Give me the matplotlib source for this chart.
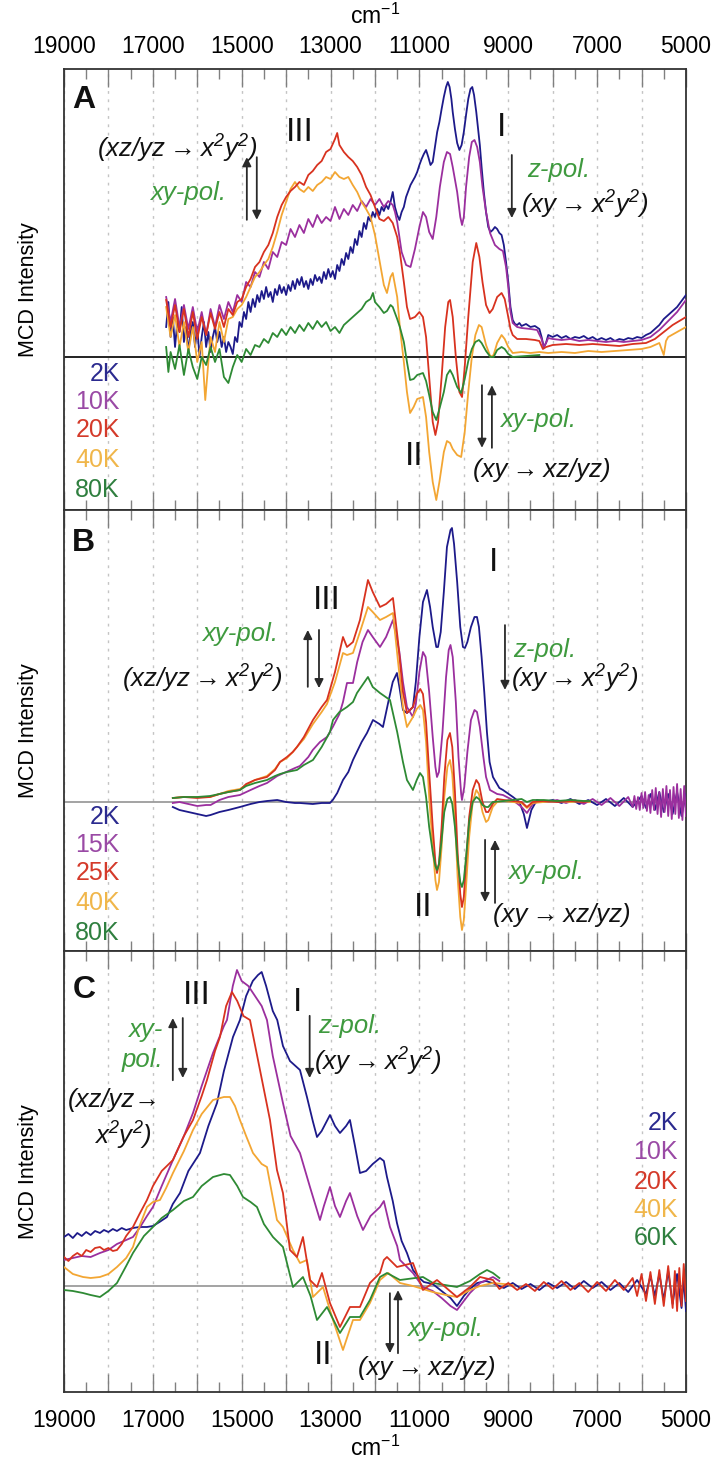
import numpy as np
import matplotlib.pyplot as plt
from matplotlib.ticker import MultipleLocator, FuncFormatter

plt.rcParams['font.family'] = ['Liberation Sans', 'DejaVu Sans']

NAVY   = '#1d1a8a'
PURPLE = '#9b2f9e'
RED    = '#d8321f'
ORANGE = '#f3a633'
GREEN  = '#2e8a34'
ANN_GREEN = '#3f9a3f'
LEG_COLORS = ['#2b2a8f', '#9a4aa5', '#d43a2a', '#f0b64a', '#2f7f3f']

# ---------------- panel A : wavenumber (cm-1), MCD intensity (arb.) ----------------
A_2K = np.array([
    [16700, 30], [16650, 55], [16600, 20], [16550, 40], [16500, 10], [16450, 35], [16400, 25], [16350, 50],
    [16300, 15], [16250, 30], [16200, 5], [16150, 25], [16100, 35], [16050, 10], [16000, 30], [15950, 0],
    [15900, 20], [15850, 35], [15800, 10], [15750, 25], [15700, 5], [15650, 20], [15600, 30], [15550, 15],
    [15500, 25], [15450, 10], [15400, 20], [15350, 5], [15300, 15], [15250, 10], [15200, 3], [15150, 20],
    [15100, 15], [15050, 35], [15000, 30], [14950, 45], [14900, 38], [14850, 55], [14800, 45], [14750, 58],
    [14700, 50], [14650, 62], [14600, 55], [14550, 66], [14500, 58], [14450, 70], [14400, 60], [14350, 65],
    [14300, 55], [14250, 68], [14200, 62], [14150, 72], [14100, 64], [14050, 70], [14000, 62], [13950, 72],
    [13900, 66], [13850, 76], [13800, 68], [13750, 78], [13700, 72], [13650, 80], [13600, 70], [13550, 76],
    [13500, 68], [13450, 78], [13400, 72], [13350, 82], [13300, 76], [13250, 80], [13200, 74], [13150, 85],
    [13100, 78], [13050, 88], [13000, 80], [12950, 86], [12900, 78], [12850, 92], [12800, 86], [12750, 98],
    [12700, 92], [12650, 104], [12600, 98], [12550, 110], [12500, 104], [12450, 118], [12400, 112], [12350, 126],
    [12300, 120], [12250, 134], [12200, 128], [12150, 140], [12100, 136], [12050, 145], [12000, 140], [11950, 148],
    [11900, 142], [11850, 150], [11800, 146], [11750, 152], [11700, 148], [11650, 155], [11600, 165], [11550, 150],
    [11500, 142], [11450, 137], [11400, 145], [11350, 150], [11300, 160], [11250, 166], [11200, 172], [11150, 176],
    [11100, 180], [11050, 185], [11000, 192], [10950, 198], [10900, 203], [10850, 207], [10800, 200], [10750, 192],
    [10700, 195], [10650, 210], [10600, 225], [10550, 235], [10500, 248], [10450, 260], [10400, 270], [10360, 275],
    [10320, 270], [10280, 258], [10250, 245], [10200, 228], [10150, 214], [10100, 207], [10050, 212], [10000, 225],
    [9950, 242], [9900, 258], [9850, 268], [9810, 270], [9770, 262], [9720, 245], [9680, 228], [9640, 212],
    [9600, 190], [9550, 165], [9500, 145], [9450, 130], [9400, 125], [9350, 127], [9300, 130], [9250, 128],
    [9200, 124], [9150, 122], [9100, 112], [9050, 95], [9000, 75], [8950, 50], [8900, 37], [8850, 33],
    [8800, 32], [8750, 34], [8700, 31], [8600, 33], [8500, 30], [8400, 31], [8300, 28], [8250, 20],
    [8200, 10], [8150, 14], [8100, 22], [8000, 20], [7900, 22], [7800, 19], [7700, 21], [7600, 18],
    [7500, 20], [7400, 19], [7300, 21], [7200, 18], [7100, 20], [7000, 17], [6900, 19], [6800, 17],
    [6700, 19], [6600, 16], [6500, 18], [6400, 17], [6300, 19], [6200, 18], [6100, 20], [6000, 19],
    [5900, 22], [5800, 24], [5700, 28], [5600, 32], [5500, 38], [5400, 42], [5300, 46], [5200, 50],
    [5100, 56], [5000, 62]])

A_10K = np.array([
    [16700, 60], [16600, 35], [16500, 58], [16400, 30], [16300, 52], [16200, 28], [16100, 50], [16000, 25],
    [15900, 45], [15800, 22], [15700, 48], [15600, 30], [15500, 52], [15400, 38], [15300, 55], [15200, 45],
    [15100, 62], [15000, 55], [14900, 75], [14800, 70], [14700, 85], [14600, 80], [14500, 95], [14400, 88],
    [14300, 105], [14200, 100], [14100, 115], [14000, 112], [13900, 128], [13800, 120], [13700, 132], [13600, 124],
    [13500, 138], [13400, 130], [13300, 142], [13200, 134], [13100, 140], [13000, 136], [12900, 150], [12800, 138],
    [12700, 148], [12600, 142], [12500, 152], [12400, 146], [12300, 156], [12200, 150], [12100, 158], [12000, 152],
    [11900, 158], [11800, 150], [11700, 156], [11600, 152], [11550, 145], [11500, 135], [11450, 120], [11400, 105],
    [11300, 92], [11200, 90], [11100, 108], [11000, 130], [10920, 145], [10850, 140], [10780, 125], [10700, 118],
    [10620, 140], [10540, 170], [10450, 195], [10380, 205], [10310, 203], [10250, 190], [10150, 165], [10080, 140],
    [10040, 132], [10000, 140], [9950, 170], [9880, 200], [9820, 215], [9760, 217], [9700, 210], [9640, 195],
    [9580, 170], [9500, 145], [9410, 124], [9300, 112], [9200, 108], [9120, 106], [9050, 90], [9000, 70],
    [8950, 45], [8900, 34], [8800, 30], [8700, 29], [8500, 28], [8350, 27], [8250, 18], [8200, 10],
    [8150, 14], [8100, 19], [8000, 18], [7800, 17], [7600, 18], [7400, 16], [7200, 17], [7000, 16],
    [6800, 15], [6600, 16], [6400, 15], [6200, 16], [6000, 17], [5800, 20], [5600, 27], [5400, 36],
    [5200, 45], [5000, 57]])

A_20K = np.array([
    [16700, 57], [16600, 30], [16500, 52], [16400, 25], [16300, 48], [16200, 20], [16100, 45], [16000, 18],
    [15900, 40], [15800, 22], [15700, 44], [15600, 28], [15500, 45], [15400, 30], [15300, 48], [15200, 42],
    [15100, 55], [15000, 58], [14900, 70], [14800, 78], [14700, 90], [14600, 95], [14500, 105], [14400, 112],
    [14300, 124], [14200, 140], [14100, 152], [14000, 160], [13900, 166], [13800, 170], [13700, 175], [13600, 172],
    [13500, 182], [13400, 186], [13300, 192], [13200, 196], [13100, 205], [13000, 208], [12900, 218], [12850, 224],
    [12800, 212], [12700, 205], [12600, 200], [12500, 196], [12400, 190], [12300, 182], [12200, 170], [12100, 162],
    [12000, 150], [11900, 138], [11800, 136], [11700, 140], [11600, 134], [11500, 120], [11440, 105], [11350, 75],
    [11280, 50], [11210, 38], [11100, 40], [11000, 45], [10920, 40], [10850, 20], [10780, -20], [10700, -65],
    [10640, -78], [10580, -65], [10500, -20], [10420, 30], [10350, 55], [10310, 57], [10250, 40], [10180, 0],
    [10100, -35], [10040, -40], [9980, -10], [9900, 40], [9800, 95], [9720, 114], [9650, 100], [9580, 75],
    [9500, 52], [9420, 44], [9350, 48], [9250, 60], [9150, 64], [9080, 58], [9000, 40], [8950, 28],
    [8900, 22], [8800, 18], [8600, 18], [8400, 17], [8300, 16], [8220, 8], [8150, 10], [8000, 12],
    [7700, 13], [7400, 12], [7100, 13], [6800, 12], [6500, 11], [6200, 13], [5900, 14], [5700, 18],
    [5500, 25], [5300, 32], [5150, 36], [5000, 40]])

A_40K = np.array([
    [16700, 50], [16600, 20], [16500, 42], [16400, 10], [16300, 35], [16200, 5], [16100, 30], [16000, -5],
    [15900, 15], [15820, -43], [15750, -5], [15700, 20], [15600, 5], [15500, 35], [15400, 15], [15300, 38],
    [15200, 40], [15100, 48], [15000, 52], [14900, 60], [14800, 70], [14700, 80], [14600, 85], [14500, 92],
    [14400, 98], [14300, 110], [14200, 125], [14100, 142], [14000, 155], [13900, 168], [13800, 175], [13700, 168],
    [13600, 165], [13500, 170], [13400, 166], [13300, 172], [13200, 175], [13100, 180], [13000, 178], [12900, 185],
    [12800, 180], [12700, 178], [12600, 180], [12500, 172], [12400, 165], [12300, 155], [12200, 148], [12100, 140],
    [12000, 122], [11900, 97], [11800, 72], [11730, 64], [11650, 80], [11600, 84], [11500, 60], [11440, 30],
    [11350, -5], [11280, -35], [11210, -56], [11130, -50], [11050, -42], [10920, -40], [10850, -60], [10780, -95],
    [10700, -125], [10620, -143], [10550, -125], [10450, -95], [10380, -84], [10310, -86], [10250, -92], [10150, -98],
    [10060, -100], [9980, -75], [9900, -35], [9820, 0], [9740, 22], [9660, 32], [9600, 30], [9500, 12],
    [9400, 0], [9330, 2], [9250, 14], [9150, 22], [9080, 18], [9000, 10], [8900, 4], [8700, 5],
    [8500, 4], [8300, 5], [8100, 4], [7800, 5], [7500, 4], [7200, 6], [6900, 5], [6600, 6],
    [6300, 7], [6000, 8], [5800, 10], [5600, 14], [5500, 2], [5450, 16], [5400, 20], [5200, 25],
    [5000, 30]])

A_80K = np.array([
    [16700, 10], [16650, -15], [16600, 5], [16500, -12], [16400, 12], [16300, -18], [16200, 8], [16100, -10],
    [16000, -22], [15900, 0], [15800, -8], [15700, 10], [15600, -5], [15500, 8], [15400, -20], [15300, -26],
    [15200, -10], [15100, 2], [15000, -5], [14900, 8], [14800, 2], [14700, 12], [14600, 10], [14500, 18],
    [14400, 14], [14300, 24], [14200, 20], [14100, 28], [14000, 22], [13900, 30], [13800, 24], [13700, 32],
    [13600, 26], [13500, 34], [13400, 28], [13300, 36], [13200, 30], [13100, 35], [13000, 26], [12900, 30],
    [12800, 24], [12700, 32], [12600, 36], [12500, 40], [12400, 44], [12300, 48], [12200, 55], [12100, 58],
    [12045, 64], [12000, 55], [11900, 50], [11800, 44], [11730, 46], [11650, 52], [11600, 50], [11500, 38],
    [11440, 30], [11350, 15], [11280, -5], [11210, -23], [11130, -22], [11050, -18], [10920, -16], [10850, -24],
    [10780, -38], [10700, -55], [10620, -63], [10550, -52], [10450, -35], [10380, -18], [10310, -13], [10250, -18],
    [10150, -30], [10060, -36], [9980, -22], [9900, -4], [9820, 8], [9740, 15], [9660, 17], [9600, 14],
    [9500, 6], [9400, 0], [9330, 0], [9250, 7], [9150, 10], [9080, 8], [9000, 3], [8900, 0],
    [8600, 1], [8300, 2]])

# ---------------- panel B ----------------
B_2K = np.array([
    [16550, -5], [16400, -8], [16200, -10], [16000, -12], [15800, -14], [15700, -13], [15500, -10], [15300, -8],
    [15040, -5], [14800, -2], [14600, 0], [14430, 1], [14200, 2], [14000, 0], [13800, -1], [13690, -1],
    [13400, -2], [13200, -1], [13013, -1], [12950, 2], [12850, 9], [12720, 22], [12600, 30], [12495, 42],
    [12300, 60], [12180, 69], [12045, 82], [11900, 78], [11820, 75], [11700, 100], [11600, 120], [11505, 129],
    [11450, 115], [11370, 92], [11280, 89], [11145, 95], [11080, 120], [11000, 165], [10920, 200], [10830, 212],
    [10760, 195], [10700, 175], [10620, 155], [10582, 155], [10520, 170], [10450, 210], [10380, 255], [10300, 272],
    [10267, 274], [10220, 258], [10150, 220], [10080, 175], [10020, 155], [9975, 154], [9920, 160], [9840, 175],
    [9760, 185], [9704, 185], [9660, 175], [9600, 145], [9540, 110], [9480, 70], [9420, 40], [9344, 25],
    [9200, 14], [9119, 12], [8894, 5], [8750, 0], [8650, -12], [8579, -26], [8480, -8], [8354, 2],
    [8200, 0], [8000, 2], [7800, -1], [7600, 3], [7400, -2], [7200, 2], [7000, -3], [6800, 3],
    [6600, -4], [6400, 4], [6200, -5], [6000, 6], [5900, -6], [5800, 8], [5700, -8], [5600, 10],
    [5500, -10], [5400, 8], [5300, -12], [5200, 10], [5100, -14], [5000, 8]])

B_15K = np.array([
    [16550, -1], [16400, 0], [16200, -2], [16000, -4], [15800, -3], [15700, -3], [15500, 2], [15300, 5],
    [15040, 7], [14800, 12], [14600, 16], [14430, 19], [14200, 26], [14000, 30], [13800, 34], [13690, 36],
    [13500, 45], [13400, 52], [13238, 60], [13080, 65], [12950, 75], [12800, 88], [12720, 100], [12630, 119],
    [12495, 119], [12400, 140], [12280, 160], [12158, 172], [12050, 165], [11887, 155], [11750, 165], [11595, 182],
    [11450, 150], [11370, 120], [11280, 95], [11145, 85], [11080, 98], [11000, 130], [10920, 150], [10860, 145],
    [10780, 110], [10700, 65], [10640, 35], [10604, 25], [10560, 30], [10480, 70], [10400, 125], [10340, 152],
    [10300, 157], [10250, 145], [10180, 100], [10120, 45], [10060, 8], [10042, 2], [9990, 15], [9920, 50],
    [9840, 82], [9760, 92], [9704, 90], [9640, 75], [9560, 45], [9500, 25], [9411, 12], [9250, 8],
    [9119, 7], [8900, 2], [8700, -5], [8579, -11], [8450, -2], [8300, 1], [8100, 0], [7900, 2],
    [7700, -1], [7500, 2], [7300, -2], [7100, 3], [6900, -3], [6700, 4], [6500, -4], [6300, 5],
    [6200, -5], [6160, 6], [6120, -7], [6080, 5], [6040, -8], [6000, 9], [5960, -6], [5920, 10],
    [5880, -9], [5840, 7], [5800, -11], [5760, 12], [5720, -8], [5680, 14], [5640, -12], [5600, 10],
    [5560, -15], [5520, 13], [5480, -10], [5440, 16], [5400, -14], [5360, 12], [5320, -17], [5280, 15],
    [5240, -12], [5200, 18], [5160, -16], [5120, 13], [5080, -18], [5040, 16], [5000, -14]])

B_25K = np.array([
    [16550, 4], [16300, 5], [16000, 4], [15714, 5], [15500, 8], [15300, 10], [15039, 12], [14900, 18],
    [14700, 22], [14431, 25], [14250, 32], [14138, 40], [13981, 45], [13850, 50], [13756, 55], [13600, 65],
    [13396, 82], [13200, 95], [13080, 102], [12900, 130], [12720, 165], [12630, 155], [12495, 160], [12338, 182],
    [12158, 222], [12050, 210], [11887, 195], [11750, 198], [11595, 204], [11480, 160], [11370, 110], [11280, 89],
    [11145, 95], [11060, 108], [10980, 113], [10920, 108], [10850, 80], [10780, 30], [10700, -25], [10640, -60],
    [10604, -71], [10560, -62], [10500, -25], [10440, 25], [10370, 62], [10312, 69], [10260, 55], [10200, 10],
    [10140, -50], [10080, -92], [10042, -105], [10000, -95], [9950, -60], [9880, -15], [9800, 12], [9720, 22],
    [9660, 18], [9580, 0], [9500, -10], [9450, -10], [9350, -2], [9250, 3], [9100, 2], [8900, 1],
    [8700, 0], [8580, -5], [8450, 0], [8200, 1], [7900, 0], [7600, 1], [7300, 0], [7161, 1]])

B_40K = np.array([
    [16550, 4], [16300, 5], [16000, 5], [15714, 5], [15500, 8], [15300, 11], [15039, 13], [14900, 17],
    [14700, 22], [14431, 26], [14250, 33], [14138, 40], [13981, 44], [13850, 50], [13756, 55], [13600, 63],
    [13396, 78], [13200, 90], [13080, 98], [12900, 120], [12720, 149], [12630, 147], [12495, 149], [12338, 170],
    [12158, 195], [12050, 190], [11887, 182], [11750, 185], [11595, 189], [11480, 140], [11370, 95], [11280, 75],
    [11145, 85], [11060, 93], [10980, 97], [10920, 92], [10850, 60], [10780, 5], [10700, -45], [10640, -78],
    [10604, -88], [10560, -80], [10500, -45], [10440, 5], [10370, 35], [10312, 42], [10260, 28], [10200, -15],
    [10140, -75], [10080, -115], [10042, -128], [10000, -118], [9950, -85], [9880, -35], [9800, 0], [9720, 12],
    [9660, 8], [9580, -10], [9500, -20], [9450, -18], [9350, -5], [9250, 0], [9100, 1], [8900, 0],
    [8700, -1], [8580, -6], [8450, -1], [8200, 0], [7900, 1], [7600, 0], [7300, 1], [7161, 0]])

B_80K = np.array([
    [16550, 4], [16300, 5], [16000, 5], [15714, 6], [15500, 8], [15300, 10], [15039, 12], [14900, 16],
    [14700, 19], [14431, 22], [14250, 26], [14138, 28], [13981, 30], [13756, 32], [13600, 37], [13396, 42],
    [13200, 55], [13013, 70], [12945, 82], [12800, 90], [12630, 95], [12495, 100], [12405, 109], [12158, 125],
    [12050, 115], [11887, 109], [11662, 102], [11500, 70], [11370, 40], [11280, 22], [11145, 12], [11060, 22],
    [10987, 29], [10920, 25], [10850, 5], [10780, -25], [10700, -50], [10640, -64], [10604, -68], [10560, -62],
    [10500, -38], [10440, -10], [10370, 3], [10312, 5], [10260, -2], [10200, -25], [10140, -58], [10080, -80],
    [10042, -85], [10000, -78], [9950, -55], [9880, -20], [9800, 0], [9720, 5], [9660, 3], [9580, -3],
    [9500, -5], [9450, -5], [9350, 0], [9100, 1], [8900, 2], [8700, 3], [8580, 0], [8450, 2],
    [8200, 2], [7900, 1], [7600, 2], [7300, 1], [7161, 1]])

# ---------------- panel C ----------------
C_2K = np.array([
    [19000, 49], [18900, 52], [18800, 48], [18700, 53], [18600, 50], [18500, 54], [18400, 51], [18300, 55],
    [18190, 53], [18100, 56], [18000, 54], [17900, 57], [17807, 55], [17700, 58], [17600, 56], [17447, 58],
    [17300, 59], [17132, 59], [16997, 60], [16850, 64], [16682, 69], [16550, 82], [16389, 93], [16200, 115],
    [15939, 133], [15750, 160], [15556, 183], [15400, 215], [15196, 249], [15039, 266], [14900, 290], [14750, 305],
    [14633, 311], [14550, 314], [14450, 300], [14300, 275], [14200, 266], [14071, 240], [13913, 225], [13688, 216],
    [13531, 189], [13400, 165], [13305, 149], [13200, 155], [13013, 171], [12900, 160], [12788, 153], [12650, 160],
    [12563, 166], [12450, 140], [12338, 113], [12200, 115], [12050, 122], [11887, 128], [11800, 125], [11730, 109],
    [11600, 85], [11505, 63], [11400, 45], [11280, 33], [11145, 16], [11000, 8], [10900, 4], [10700, 2],
    [10500, -5], [10300, -12], [10154, -20], [10000, -10], [9862, -3], [9700, 3], [9500, 5], [9300, 2],
    [9100, -2], [8900, 3], [8700, -3], [8500, 2], [8300, -4], [8100, 3], [7900, -2], [7700, 4],
    [7500, -3], [7300, 5], [7100, -2], [6900, 4], [6700, -4], [6500, 3], [6300, -6], [6100, 6],
    [5900, -8], [5800, 10], [5700, -10], [5600, 12], [5500, -14], [5400, 15], [5300, -18], [5200, 12],
    [5100, -22], [5050, 8], [5000, -25]])

C_10K = np.array([
    [19000, 26], [18800, 28], [18600, 30], [18400, 29], [18190, 33], [18000, 36], [17807, 42], [17600, 46],
    [17447, 49], [17300, 58], [17132, 70], [16997, 79], [16800, 100], [16547, 126], [16300, 150], [16096, 173],
    [15900, 200], [15646, 233], [15400, 260], [15331, 266], [15200, 300], [15106, 316], [15000, 305], [14850, 300],
    [14700, 290], [14550, 280], [14431, 266], [14300, 230], [14071, 183], [13900, 150], [13688, 133], [13463, 99],
    [13238, 66], [13150, 80], [13013, 99], [12900, 80], [12788, 69], [12650, 85], [12563, 93], [12400, 70],
    [12270, 56], [12100, 70], [11887, 79], [11800, 85], [11662, 59], [11500, 40], [11437, 26], [11145, 13],
    [10920, -1], [10700, -5], [10500, -12], [10300, -20], [10154, -24], [10000, -15], [9862, -7], [9637, 3],
    [9344, 9], [9200, 5]])

C_20K = np.array([
    [19000, 29], [18900, 25], [18800, 30], [18700, 33], [18600, 30], [18500, 36], [18400, 34], [18300, 38],
    [18190, 39], [18100, 36], [18000, 38], [17900, 35], [17807, 36], [17700, 42], [17600, 50], [17447, 59],
    [17300, 72], [17132, 86], [16997, 100], [16800, 115], [16547, 126], [16300, 150], [16096, 166], [15900, 190],
    [15781, 206], [15600, 235], [15489, 249], [15350, 280], [15219, 294], [15100, 285], [14960, 270], [14813, 266],
    [14588, 216], [14363, 166], [14206, 116], [14071, 93], [13913, 36], [13756, 29], [13621, 49], [13463, 6],
    [13305, -1], [13193, 13], [13013, -17], [12788, -41], [12563, -21], [12338, -21], [12113, 3], [11887, 13],
    [11800, 26], [11730, 29], [11505, 19], [11145, 23], [10920, -4], [10604, 6], [10154, -11], [9862, -1],
    [9637, 9], [9344, 6], [9200, -3], [9000, 3], [8800, -4], [8600, 2], [8400, -5], [8200, 4],
    [8000, -3], [7800, 5], [7600, -4], [7400, 3], [7200, -6], [7000, 4], [6800, -5], [6600, 6],
    [6400, -4], [6200, 8], [6100, -10], [6000, 12], [5900, -15], [5800, 14], [5700, -18], [5600, 16],
    [5500, -20], [5400, 20], [5300, -22], [5250, 15], [5200, -25], [5150, 18], [5100, -20], [5050, 22],
    [5000, -15]])

C_40K = np.array([
    [19000, 19], [18800, 12], [18572, 9], [18400, 8], [18190, 9], [18000, 12], [17807, 19], [17600, 28],
    [17447, 39], [17300, 60], [17132, 79], [16997, 84], [16839, 86], [16700, 98], [16547, 113], [16300, 135],
    [16096, 156], [15900, 172], [15646, 186], [15400, 189], [15264, 189], [15150, 180], [15039, 166], [14900, 150],
    [14746, 133], [14550, 122], [14431, 119], [14206, 66], [14071, 59], [13846, 36], [13688, 23], [13531, 26],
    [13396, -11], [13170, -1], [12945, -34], [12720, -64], [12495, -34], [12338, -34], [12113, -17], [11887, 6],
    [11700, 13], [11437, 3], [11145, 0], [10920, -3], [10700, -6], [10400, -9], [10154, -11], [9862, -4],
    [9637, 0], [9344, 3], [9100, 2], [8900, 1]])

C_60K = np.array([
    [19000, -4], [18800, -5], [18572, -7], [18400, -9], [18190, -11], [18000, -5], [17807, 3], [17600, 20],
    [17447, 33], [17200, 50], [16997, 59], [16800, 68], [16547, 76], [16300, 85], [16096, 89], [15900, 100],
    [15646, 109], [15400, 112], [15264, 111], [15100, 100], [14971, 89], [14800, 84], [14656, 79], [14500, 62],
    [14296, 49], [14071, 39], [13846, -1], [13621, 9], [13450, -10], [13305, -34], [13080, -21], [12788, -47],
    [12563, -31], [12338, -31], [12113, -14], [11887, 9], [11730, 13], [11437, 6], [10920, 9], [10695, 3],
    [10154, -1], [9862, 5], [9637, 12], [9479, 16], [9344, 13], [9200, 8]])

A_TEMPS = ['2K', '10K', '20K', '40K', '80K']
B_TEMPS = ['2K', '15K', '25K', '40K', '80K']
C_TEMPS = ['2K', '10K', '20K', '40K', '60K']

A_LIM = (-153, 288)
B_LIM = (-149, 292)
C_LIM = (-106, 335)

FS_TICK = 16.5
FS_NOTE = 18.5
FS_ROMAN = 24
FS_LEG = 18
FS_PANEL = 23

SUP2 = '$^{\\mathregular{2}}$'
ARR = '\u2009→\u2009'
XZ_TO_X2Y2 = '(xz/yz' + ARR + 'x' + SUP2 + 'y' + SUP2 + ')'
XY_TO_X2Y2 = '(xy' + ARR + 'x' + SUP2 + 'y' + SUP2 + ')'
XY_TO_XZYZ = '(xy' + ARR + 'xz/yz)'


def tick_fmt(v, pos):
    v = int(round(v))
    return str(v) if v % 2000 == 1000 else ''


def setup(ax, ylim, zero_color, zero_lw):
    ax.set_xlim(19000, 5000)
    ax.set_ylim(*ylim)
    ax.axhline(0, color=zero_color, lw=zero_lw, zorder=2)
    ax.xaxis.set_major_locator(MultipleLocator(1000))
    ax.xaxis.set_minor_locator(MultipleLocator(500))
    ax.xaxis.set_major_formatter(FuncFormatter(tick_fmt))
    ax.tick_params(axis='x', which='both', direction='in', top=True, bottom=True,
                   labelbottom=False, labeltop=False, color='#808080', width=1.0,
                   labelsize=FS_TICK, pad=8)
    ax.tick_params(axis='x', which='major', length=13)
    ax.tick_params(axis='x', which='minor', length=7)
    ax.set_yticks([])
    ax.grid(True, axis='x', which='major', color='#c4c4c4', linestyle=(0, (2, 4)), lw=1.0)
    ax.set_axisbelow(True)
    for s in ax.spines.values():
        s.set_color('#333333')
        s.set_linewidth(1.3)
    ax.set_ylabel('MCD Intensity', fontsize=15.5)
    ax.yaxis.set_label_coords(-0.040, 0.5)


def note(ax, x, y, s, color='#111111', ha='left', size=FS_NOTE, style='italic', weight='normal'):
    ax.text(x, y, s, transform=ax.transAxes, ha=ha, va='center', color=color,
            fontsize=size, style=style, fontweight=weight)


def arrow(ax, x, y_from, y_to):
    ax.annotate('', xy=(x, y_to), xytext=(x, y_from), xycoords='axes fraction',
                arrowprops=dict(arrowstyle='-|>', color='#2a2a2a', lw=1.3,
                                mutation_scale=13, shrinkA=0, shrinkB=0))


def legend_text(ax, x, ys, labels, ha):
    for y, lab, col in zip(ys, labels, LEG_COLORS):
        ax.text(x, y, lab, transform=ax.transAxes, ha=ha, va='center',
                color=col, fontsize=FS_LEG)


fig = plt.figure(figsize=(7.22, 14.64), dpi=100)
L, W, H = 0.0886, 0.8615, 0.30123
ax_a = fig.add_axes([L, 0.65164, W, H])
ax_b = fig.add_axes([L, 0.35041, W, H])
ax_c = fig.add_axes([L, 0.04918, W, H])

# panel A
setup(ax_a, A_LIM, '#222222', 1.4)
for d, c in [(A_2K, NAVY), (A_10K, PURPLE), (A_40K, ORANGE), (A_20K, RED), (A_80K, GREEN)]:
    ax_a.plot(d[:, 0], d[:, 1], color=c, lw=1.3, zorder=3)
ax_a.tick_params(axis='x', labeltop=True)
ax_a.xaxis.set_label_position('top')
ax_a.set_xlabel('cm$^{\\mathregular{-1}}$', fontsize=FS_TICK, labelpad=8)

note(ax_a, 0.032, 0.930, 'A', style='normal', weight='bold', ha='center', size=FS_PANEL)
note(ax_a, 0.379, 0.855, 'III', style='normal', ha='center', size=FS_ROMAN)
note(ax_a, 0.182, 0.823, XZ_TO_X2Y2, ha='center')
note(ax_a, 0.199, 0.719, 'xy-pol.', color=ANN_GREEN, ha='center')
arrow(ax_a, 0.294, 0.658, 0.800)
arrow(ax_a, 0.310, 0.800, 0.658)
note(ax_a, 0.704, 0.868, 'I', style='normal', ha='center', size=FS_ROMAN)
arrow(ax_a, 0.720, 0.805, 0.662)
note(ax_a, 0.744, 0.771, 'z-pol.', color=ANN_GREEN)
note(ax_a, 0.735, 0.696, XY_TO_X2Y2)
note(ax_a, 0.563, 0.122, 'II', style='normal', ha='center', size=FS_ROMAN)
arrow(ax_a, 0.672, 0.283, 0.141)
arrow(ax_a, 0.688, 0.141, 0.283)
note(ax_a, 0.701, 0.204, 'xy-pol.', color=ANN_GREEN)
note(ax_a, 0.658, 0.091, XY_TO_XZYZ)
legend_text(ax_a, 0.090, [0.308, 0.245, 0.181, 0.113, 0.045], A_TEMPS, 'right')

# panel B
setup(ax_b, B_LIM, '#8a8a8a', 1.1)
for d, c in [(B_2K, NAVY), (B_15K, PURPLE), (B_40K, ORANGE), (B_25K, RED), (B_80K, GREEN)]:
    ax_b.plot(d[:, 0], d[:, 1], color=c, lw=1.3, zorder=3)

note(ax_b, 0.032, 0.925, 'B', style='normal', weight='bold', ha='center', size=FS_PANEL)
note(ax_b, 0.423, 0.794, 'III', style='normal', ha='center', size=FS_ROMAN)
note(ax_b, 0.283, 0.719, 'xy-pol.', color=ANN_GREEN, ha='center')
note(ax_b, 0.222, 0.619, XZ_TO_X2Y2, ha='center')
arrow(ax_b, 0.392, 0.599, 0.728)
arrow(ax_b, 0.410, 0.728, 0.596)
note(ax_b, 0.690, 0.880, 'I', style='normal', ha='center', size=FS_ROMAN)
arrow(ax_b, 0.709, 0.739, 0.592)
note(ax_b, 0.722, 0.683, 'z-pol.', color=ANN_GREEN)
note(ax_b, 0.718, 0.619, XY_TO_X2Y2)
note(ax_b, 0.577, 0.098, 'II', style='normal', ha='center', size=FS_ROMAN)
arrow(ax_b, 0.677, 0.252, 0.111)
arrow(ax_b, 0.693, 0.109, 0.252)
note(ax_b, 0.714, 0.179, 'xy-pol.', color=ANN_GREEN)
note(ax_b, 0.690, 0.082, XY_TO_XZYZ)
legend_text(ax_b, 0.090, [0.304, 0.240, 0.177, 0.109, 0.041], B_TEMPS, 'right')

# panel C
setup(ax_c, C_LIM, '#8a8a8a', 1.1)
for d, c in [(C_2K, NAVY), (C_10K, PURPLE), (C_40K, ORANGE), (C_60K, GREEN), (C_20K, RED)]:
    ax_c.plot(d[:, 0], d[:, 1], color=c, lw=1.3, zorder=3)
ax_c.tick_params(axis='x', labelbottom=True, pad=12)
ax_c.set_xlabel('cm$^{\\mathregular{-1}}$', fontsize=FS_TICK, labelpad=3)

note(ax_c, 0.032, 0.912, 'C', style='normal', weight='bold', ha='center', size=FS_PANEL)
note(ax_c, 0.214, 0.898, 'III', style='normal', ha='center', size=FS_ROMAN)
note(ax_c, 0.159, 0.821, 'xy-', color=ANN_GREEN, ha='right')
note(ax_c, 0.159, 0.753, 'pol.', color=ANN_GREEN, ha='right')
arrow(ax_c, 0.175, 0.707, 0.848)
arrow(ax_c, 0.191, 0.848, 0.712)
note(ax_c, 0.006, 0.662, '(xz/yz→')
note(ax_c, 0.095, 0.583, 'x' + SUP2 + 'y' + SUP2 + ')', ha='center')
note(ax_c, 0.375, 0.884, 'I', style='normal', ha='center', size=FS_ROMAN)
arrow(ax_c, 0.395, 0.853, 0.712)
note(ax_c, 0.408, 0.830, 'z-pol.', color=ANN_GREEN)
note(ax_c, 0.402, 0.752, XY_TO_X2Y2)
note(ax_c, 0.416, 0.082, 'II', style='normal', ha='center', size=FS_ROMAN)
arrow(ax_c, 0.524, 0.224, 0.088)
arrow(ax_c, 0.537, 0.088, 0.231)
note(ax_c, 0.551, 0.143, 'xy-pol.', color=ANN_GREEN)
note(ax_c, 0.472, 0.054, XY_TO_XZYZ)
legend_text(ax_c, 0.987, [0.610, 0.544, 0.476, 0.413, 0.349], C_TEMPS, 'right')

fig.savefig('out.png', dpi=100, facecolor='white')
